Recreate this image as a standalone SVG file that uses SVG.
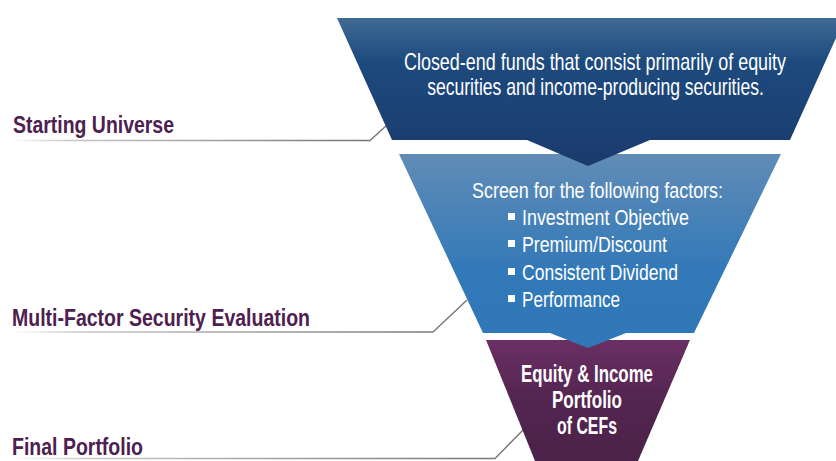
<svg xmlns="http://www.w3.org/2000/svg" width="836" height="461" viewBox="0 0 836 461">
<defs>
<linearGradient id="gTop" x1="0" y1="0" x2="0" y2="1">
<stop offset="0" stop-color="#3f6a94"/>
<stop offset="0.3" stop-color="#1d4a7e"/>
<stop offset="1" stop-color="#1b3a6c"/>
</linearGradient>
<linearGradient id="gMid" x1="0" y1="0" x2="0" y2="1">
<stop offset="0" stop-color="#618cb6"/>
<stop offset="0.6" stop-color="#3279b8"/>
<stop offset="1" stop-color="#2f77b8"/>
</linearGradient>
<linearGradient id="gBot" x1="0" y1="0" x2="0" y2="1">
<stop offset="0" stop-color="#6a2f64"/>
<stop offset="0.5" stop-color="#532550"/>
<stop offset="1" stop-color="#4b2249"/>
</linearGradient>
<linearGradient id="gLine" x1="0" y1="0" x2="1" y2="0">
<stop offset="0" stop-color="#ffffff"/>
<stop offset="0.15" stop-color="#c8c8c8"/>
<stop offset="1" stop-color="#707070"/>
</linearGradient>
<style>
.lbl{font-family:"Liberation Sans Narrow","Liberation Sans",Arial,sans-serif;font-weight:bold;fill:#4d2050;font-size:23px}
.wt{font-family:"Liberation Sans Narrow","Liberation Sans",Arial,sans-serif;fill:#ffffff;font-size:22.5px}
.wb{font-family:"Liberation Sans Narrow","Liberation Sans",Arial,sans-serif;fill:#ffffff;font-size:23px;font-weight:bold}
.top{font-family:"Liberation Sans",Arial,sans-serif;fill:#ffffff;font-size:24px}
.lead{fill:none;stroke:url(#gLine);stroke-width:1.3}
</style>
</defs>

<g id="connectors">
<polyline class="lead" points="10,140.5 370,140.5 387,125"/>
<polyline class="lead" points="10,332 433,332 467,300"/>
<polyline class="lead" points="10,458.5 495,458.5 525,428"/>
</g>

<g id="node-bottom">
<polygon points="486,340 690,340 638,461 535,461" fill="url(#gBot)"/>
<text class="wb" x="587" y="382" text-anchor="middle" textLength="132" lengthAdjust="spacingAndGlyphs">Equity &amp; Income</text>
<text class="wb" x="587" y="408" text-anchor="middle" textLength="70" lengthAdjust="spacingAndGlyphs">Portfolio</text>
<text class="wb" x="587" y="434" text-anchor="middle" textLength="60" lengthAdjust="spacingAndGlyphs">of CEFs</text>
</g>

<g id="node-middle">
<polygon points="399,154 781,154 694,333 626,333 588,348 550,333 483,333" fill="url(#gMid)"/>
<text class="wt" x="472" y="198" textLength="251" lengthAdjust="spacingAndGlyphs">Screen for the following factors:</text>
<rect x="508" y="213" width="7" height="7" fill="#ffffff"/>
<text class="wt" x="522" y="225" textLength="167" lengthAdjust="spacingAndGlyphs">Investment Objective</text>
<rect x="508" y="240" width="7" height="7" fill="#ffffff"/>
<text class="wt" x="522" y="252" textLength="145" lengthAdjust="spacingAndGlyphs">Premium/Discount</text>
<rect x="508" y="268" width="7" height="7" fill="#ffffff"/>
<text class="wt" x="522" y="280" textLength="156" lengthAdjust="spacingAndGlyphs">Consistent Dividend</text>
<rect x="508" y="295" width="7" height="7" fill="#ffffff"/>
<text class="wt" x="522" y="307" textLength="98" lengthAdjust="spacingAndGlyphs">Performance</text>
</g>

<g id="node-top">
<polygon points="337,18 836,18 836,38 790,140 650,140 588,166 527,140 392,140" fill="url(#gTop)"/>
<text class="top" transform="translate(595,70) scale(0.748,1)" x="0" y="0" text-anchor="middle">Closed-end funds that consist primarily of equity</text>
<text class="top" transform="translate(595.5,95) scale(0.732,1)" x="0" y="0" text-anchor="middle">securities and income-producing securities.</text>
</g>

<g id="labels">
<text class="lbl" x="13" y="133" textLength="161" lengthAdjust="spacingAndGlyphs">Starting Universe</text>
<text class="lbl" x="12" y="326" textLength="298" lengthAdjust="spacingAndGlyphs">Multi-Factor Security Evaluation</text>
<text class="lbl" x="12" y="455" textLength="131" lengthAdjust="spacingAndGlyphs">Final Portfolio</text>
</g>
</svg>
